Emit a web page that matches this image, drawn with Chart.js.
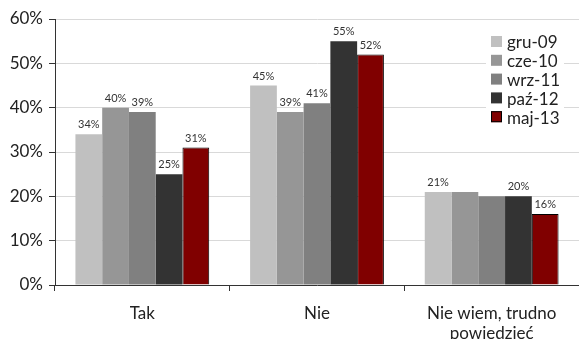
<!DOCTYPE html>
<html>
<head>
<meta charset="utf-8">
<script src="https://cdn.jsdelivr.net/npm/chart.js@4"></script>
<style>
  html, body { margin: 0; padding: 0; background: #fff; }
  #wrap { width: 579px; height: 339px; }
</style>
</head>
<body>
<div id="wrap"><canvas id="chart-survey"></canvas></div>
<script>
const categories = ["Tak", "Nie", ["Nie wiem, trudno", "powiedzieć"]];
const seriesNames = ["gru-09", "cze-10", "wrz-11", "paź-12", "maj-13"];
const gru09 = [34, 45, 21];
const cze10 = [40, 39, 21];
const wrz11 = [39, 41, 20];
const paz12 = [25, 55, 20];
const maj13 = [31, 52, 16];
const yTicks = [0, 10, 20, 30, 40, 50, 60];
// labels that the original leaves out (dataset, category)
const hiddenLabels = [[1, 2], [2, 2]];

const colors = ["#C0C0C0", "#969696", "#808080", "#333333", "#800000"];
const FONT = "Lato, 'DejaVu Sans', sans-serif";

const valueLabels = {
  id: "valueLabels",
  afterDatasetsDraw: (chart) => {
    const ctx = chart.ctx;
    ctx.save();
    ctx.font = "11px " + FONT;
    ctx.fillStyle = "#333";
    ctx.textAlign = "center";
    ctx.textBaseline = "bottom";
    chart.data.datasets.forEach((ds, di) => {
      chart.getDatasetMeta(di).data.forEach((bar, ci) => {
        if (hiddenLabels.some(([d, c]) => d === di && c === ci)) return;
        ctx.fillText(ds.data[ci] + "%", bar.x, bar.y - 4);
      });
    });
    ctx.restore();
  },
};

const boxLegend = {
  id: "boxLegend",
  afterDraw: (chart) => {
    const ctx = chart.ctx;
    const x0 = 491, y0 = 42, step = 18.8;
    ctx.save();
    ctx.fillStyle = "#fff";
    ctx.fillRect(486, 31, 78, 96);
    ctx.font = "17px " + FONT;
    ctx.textBaseline = "middle";
    chart.data.datasets.forEach((ds, i) => {
      const y = y0 + i * step;
      ctx.fillStyle = ds.backgroundColor;
      ctx.fillRect(x0, y - 6, 11, 11);
      if (ds.borderWidth) {
        ctx.strokeStyle = "#000";
        ctx.lineWidth = 1;
        ctx.strokeRect(x0 + 0.5, y - 5.5, 10, 10);
      }
      ctx.fillStyle = "#222";
      ctx.fillText(ds.label, 507, y + 1);
    });
    ctx.restore();
  },
};

const buildDatasets = () => {
  const values = [gru09, cze10, wrz11, paz12, maj13];
  return values.map((data, i) => ({
    label: seriesNames[i],
    data: data,
    backgroundColor: colors[i],
    borderColor: "#000",
    borderWidth: i === 4 ? 1 : 0,
    categoryPercentage: 0.766,
    barPercentage: 1,
  }));
};

const main = () => {
  const chartCtx = document.querySelector("#chart-survey");
  new Chart(chartCtx, {
    type: "bar",
    data: { labels: categories, datasets: buildDatasets() },
    options: {
      responsive: true,
      maintainAspectRatio: false,
      animation: false,
      layout: { padding: { top: 19, right: 0, left: 0, bottom: 0 } },
      plugins: {
        legend: { display: false },
        tooltip: { enabled: false },
      },
      scales: {
        x: {
          grid: {
            offset: true,
            drawOnChartArea: false,
            tickLength: 6,
            color: "#333",
          },
          border: { color: "#333", width: 1 },
          ticks: {
            color: "#222",
            font: { family: FONT, size: 17 },
            padding: 12,
            maxRotation: 0,
          },
          afterFit: (axis) => { axis.height = 54; },
        },
        y: {
          min: 0,
          max: 60,
          afterBuildTicks: (axis) => {
            axis.ticks = yTicks.map((v) => ({ value: v }));
          },
          grid: {
            color: "#D9D9D9",
            tickColor: "#333",
            tickLength: 6,
          },
          border: { color: "#333", width: 1 },
          ticks: {
            color: "#222",
            font: { family: FONT, size: 17 },
            padding: 6,
            callback: (v) => v + "%",
          },
          afterFit: (axis) => { axis.width = 55; },
        },
      },
    },
    plugins: [valueLabels, boxLegend],
  });
};

document.addEventListener("DOMContentLoaded", main);
</script>
</body>
</html>
